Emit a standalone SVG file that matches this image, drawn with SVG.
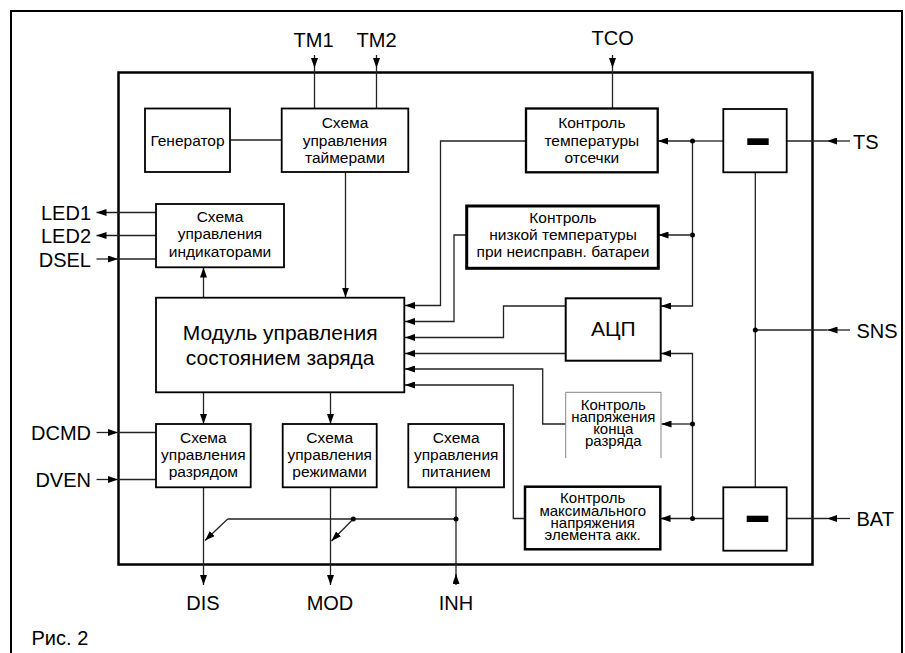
<svg xmlns="http://www.w3.org/2000/svg" width="905" height="653" viewBox="0 0 905 653">
<defs>
<marker id="ah" viewBox="0 0 10 7" refX="10" refY="3.5" markerWidth="10" markerHeight="7" markerUnits="userSpaceOnUse" orient="auto"><path d="M0,0L10,3.5L0,7z" fill="#000"/></marker>
</defs>
<style>
text{font-family:"Liberation Sans",Arial,sans-serif;fill:#000}
.lbl{font-size:20px}
.c{text-anchor:middle}
.e{text-anchor:end}
.bt{font-size:15.5px;text-anchor:middle}
.tt{font-size:15px;text-anchor:middle}
.big{font-size:21px;text-anchor:middle}
.box{fill:#fff;stroke:#000;stroke-width:1.8}
.w{fill:none;stroke:#222;stroke-width:1.3}
.ar{fill:none;stroke:#222;stroke-width:1.3;marker-end:url(#ah)}
.dot{fill:#000}
</style>
<rect fill="#fff" width="905" height="653"/>
<path d="M11,660V11H902V660" fill="none" stroke="#000" stroke-width="2"/>
<rect x="118.5" y="72.5" width="694" height="492" fill="none" stroke="#000" stroke-width="2.5"/>

<g id="connectors">
<path class="ar" d="M314.5,55V68"/><path class="w" d="M314.5,68V108"/>
<path class="ar" d="M376.5,55V68"/><path class="w" d="M376.5,68V108"/>
<path class="ar" d="M612.5,55V68"/><path class="w" d="M612.5,68V108"/>
<path class="w" d="M230,140H281.7"/>
<path class="ar" d="M345.5,172V297.5"/>
<path class="ar" d="M203.5,297.5V267.5"/>
<path class="ar" d="M156,212.5H96.5"/>
<path class="ar" d="M156,235.5H96.5"/>
<path class="ar" d="M96.5,259H118"/><path class="w" d="M118,259H156"/>
<path class="ar" d="M203.5,392.5V424"/>
<path class="ar" d="M330.5,392.5V424"/>
<path class="ar" d="M96.5,432.5H118"/><path class="w" d="M118,432.5H156"/>
<path class="ar" d="M96.5,479.5H118"/><path class="w" d="M118,479.5H156"/>
<path class="ar" d="M203.5,487.5V585"/>
<path class="ar" d="M330.5,487.5V585"/>
<path class="w" d="M456,487.5V584"/><path class="ar" d="M456,585V574"/>
<path class="w" d="M227.7,519H456"/>
<path class="ar" d="M227.7,519L205,540.5"/>
<path class="ar" d="M353.3,519L331.5,541"/>
<circle class="dot" cx="353.3" cy="519" r="2.5"/>
<circle class="dot" cx="456" cy="519" r="2.5"/>

<path class="ar" d="M850,141H827"/><path class="w" d="M827,141H787"/>
<path class="w" d="M723.3,141H692.5"/>
<path class="ar" d="M692.5,141H658"/>
<path class="ar" d="M692.5,141V306H661"/>
<circle class="dot" cx="692.5" cy="141" r="2.5"/>
<circle class="dot" cx="692.5" cy="235" r="2.5"/>
<path class="ar" d="M692.5,235H658.5"/>
<path class="ar" d="M526,141H440.5V305.5H405"/>
<path class="ar" d="M466.7,235H454V321.5H405"/>
<path class="ar" d="M565.7,306H503.5V337.5H405"/>
<path class="ar" d="M565.7,353.5H405"/>
<path class="ar" d="M565.7,424H542.7V369H405"/>
<path class="ar" d="M525,518.5H513.3V385H405"/>
<path class="ar" d="M723.3,518.5H692.5V353.5H661"/>
<path class="ar" d="M692.5,424H661.5"/>
<path class="ar" d="M692.5,518.5H660.5"/>
<circle class="dot" cx="692.5" cy="424" r="2.5"/>
<circle class="dot" cx="692.5" cy="518.5" r="2.5"/>
<path class="w" d="M755.3,172.3V487.3"/>
<path class="ar" d="M850,330H827.5"/><path class="w" d="M827.5,330H755.3"/>
<circle class="dot" cx="755.3" cy="330" r="2.5"/>
<path class="ar" d="M850,518.5H827"/><path class="w" d="M827,518.5H786.7"/>
</g>

<g id="gen"><rect class="box" x="145" y="108.5" width="85" height="63.5"/><text class="bt" x="187.5" y="145.5">Генератор</text></g>
<g id="timer"><rect class="box" x="281.7" y="108.5" width="126.6" height="63.5"/><text class="bt" x="345" y="128">Схема</text><text class="bt" x="345" y="145.5">управления</text><text class="bt" x="345" y="163">таймерами</text></g>
<g id="cutoff"><rect class="box" style="stroke-width:2.3" x="526" y="108.5" width="131.7" height="63.8"/><text class="bt" x="591.8" y="128">Контроль</text><text class="bt" x="591.8" y="145.5">температуры</text><text class="bt" x="591.8" y="163">отсечки</text></g>
<g id="tsminus"><rect class="box" x="723.3" y="109" width="63.4" height="63.3"/><rect x="747.3" y="138.3" width="21.4" height="6.7" fill="#000"/></g>
<g id="indicator"><rect class="box" x="156" y="204" width="128" height="63.3"/><text class="bt" x="220" y="221.5">Схема</text><text class="bt" x="220" y="239">управления</text><text class="bt" x="220" y="256.5">индикаторами</text></g>
<g id="lowtemp"><rect class="box" style="stroke-width:3" x="466.7" y="206" width="191.6" height="62.3"/><text class="bt" x="563" y="223">Контроль</text><text class="bt" x="563" y="240">низкой температуры</text><text class="bt" x="563" y="257">при неисправн. батареи</text></g>
<g id="main"><rect class="box" x="156" y="297.7" width="248.3" height="94.6"/><text class="big" x="280.2" y="340">Модуль управления</text><text class="big" x="280.2" y="365">состоянием заряда</text></g>
<g id="adc"><rect class="box" style="stroke-width:2" x="565.7" y="298.3" width="95" height="62.4"/><text class="big" x="613.2" y="336">АЦП</text></g>
<g id="eod"><path d="M565.7,458V392.3H661V458" fill="#fff" stroke="#666" stroke-width="0.8"/><text class="tt" x="613.3" y="410">Контроль</text><text class="tt" x="613.3" y="422">напряжения</text><text class="tt" x="613.3" y="434">конца</text><text class="tt" x="613.3" y="446">разряда</text></g>
<g id="maxv"><rect class="box" style="stroke-width:2.5" x="525" y="486.7" width="135.3" height="62.6"/><text class="tt" x="592.7" y="503.3">Контроль</text><text class="tt" x="592.7" y="515.7">максимального</text><text class="tt" x="592.7" y="528">напряжения</text><text class="tt" x="592.7" y="540">элемента акк.</text></g>
<g id="batminus"><rect class="box" x="723.3" y="487.3" width="63.4" height="63.4"/><rect x="746.7" y="515.7" width="21.6" height="6.3" fill="#000"/></g>
<g id="discharge"><rect class="box" x="156" y="424" width="94.7" height="63.3"/><text class="bt" x="203.3" y="443">Схема</text><text class="bt" x="203.3" y="460">управления</text><text class="bt" x="203.3" y="476.5">разрядом</text></g>
<g id="mode"><rect class="box" x="282.7" y="424" width="94" height="63.3"/><text class="bt" x="329.7" y="443">Схема</text><text class="bt" x="329.7" y="460">управления</text><text class="bt" x="329.7" y="476.5">режимами</text></g>
<g id="power"><rect class="box" x="408.3" y="424" width="95.7" height="63.3"/><text class="bt" x="456.2" y="443">Схема</text><text class="bt" x="456.2" y="460">управления</text><text class="bt" x="456.2" y="476.5">питанием</text></g>

<g id="labels">
<text class="lbl c" x="313.5" y="46.5">TM1</text>
<text class="lbl c" x="376.5" y="46.5">TM2</text>
<text class="lbl c" x="612.7" y="45">TCO</text>
<text class="lbl" x="853" y="148.5">TS</text>
<text class="lbl" x="856.5" y="337.5">SNS</text>
<text class="lbl" x="856.5" y="526">BAT</text>
<text class="lbl e" x="91" y="219.5">LED1</text>
<text class="lbl e" x="91" y="243">LED2</text>
<text class="lbl e" x="91" y="266.5">DSEL</text>
<text class="lbl e" x="91" y="439.5">DCMD</text>
<text class="lbl e" x="91" y="486.5">DVEN</text>
<text class="lbl c" x="203" y="610">DIS</text>
<text class="lbl c" x="330" y="610">MOD</text>
<text class="lbl c" x="456" y="610">INH</text>
<text class="lbl" x="31.5" y="645">Рис. 2</text>
</g>
</svg>
